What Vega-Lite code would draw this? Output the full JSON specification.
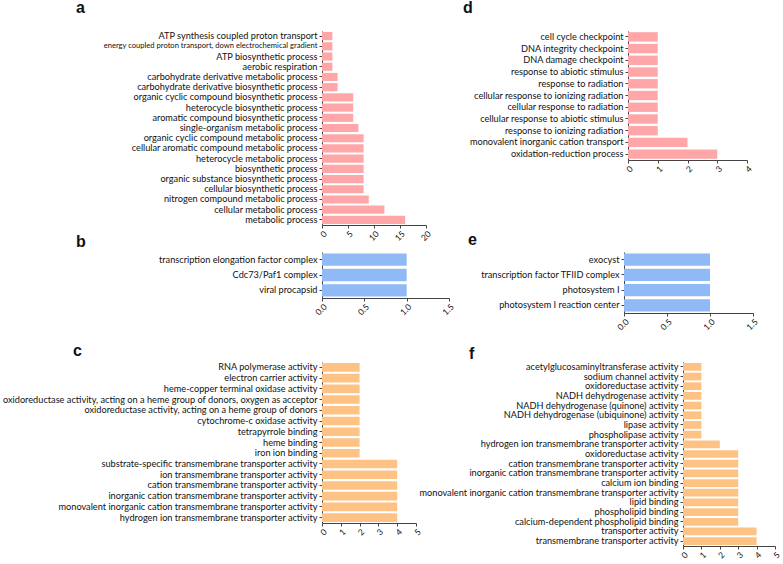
{
  "$schema": "https://vega.github.io/schema/vega-lite/v6.json",
  "padding": {"left": 2, "top": 0, "right": 0, "bottom": 0},
  "background": "white",
  "config": {
    "view": {"stroke": null},
    "axis": {
      "labelFont": "Lato",
      "labelFontSize": 9.2,
      "labelColor": "#111111",
      "labelLimit": 400,
      "labelPadding": 2,
      "domainColor": "#444444",
      "tickColor": "#444444",
      "tickSize": 3,
      "grid": false
    },
    "axisX": {"labelAngle": -45, "labelFontSize": 8.5, "labelPadding": 1},
    "title": {
      "font": "Liberation Sans",
      "fontWeight": "bold",
      "fontSize": 16,
      "anchor": "start",
      "frame": "group",
      "baseline": "alphabetic",
      "color": "#111111"
    }
  },
  "spacing": -10,
  "vconcat": [
    {
      "spacing": 30,
      "hconcat": [
        {
          "title": {"text": "a", "dx": -246, "offset": 15},
          "width": 104,
          "height": 194,
          "data": {"values": [
            {"term": "ATP synthesis coupled proton transport", "count": 2},
            {"term": "energy coupled proton transport, down electrochemical gradient", "count": 2},
            {"term": "ATP biosynthetic process", "count": 2},
            {"term": "aerobic respiration", "count": 2},
            {"term": "carbohydrate derivative metabolic process", "count": 3},
            {"term": "carbohydrate derivative biosynthetic process", "count": 3},
            {"term": "organic cyclic compound biosynthetic process", "count": 6},
            {"term": "heterocycle biosynthetic process", "count": 6},
            {"term": "aromatic compound biosynthetic process", "count": 6},
            {"term": "single-organism metabolic process", "count": 7},
            {"term": "organic cyclic compound metabolic process", "count": 8},
            {"term": "cellular aromatic compound metabolic process", "count": 8},
            {"term": "heterocycle metabolic process", "count": 8},
            {"term": "biosynthetic process", "count": 8},
            {"term": "organic substance biosynthetic process", "count": 8},
            {"term": "cellular biosynthetic process", "count": 8},
            {"term": "nitrogen compound metabolic process", "count": 9},
            {"term": "cellular metabolic process", "count": 12},
            {"term": "metabolic process", "count": 16}
          ]},
          "mark": {"type": "bar", "color": "#ffa7a8"},
          "encoding": {
            "y": {
              "field": "term", "type": "nominal", "sort": null, "title": null,
              "scale": {"paddingInner": 0.2, "paddingOuter": 0.1},
              "axis": {"labelFontSize": {"condition": {"test": "datum.value == 'energy coupled proton transport, down electrochemical gradient'", "value": 7.6}, "value": 9.2}}
            },
            "x": {
              "field": "count", "type": "quantitative", "title": null,
              "scale": {"domain": [0, 20]},
              "axis": {"values": [0, 5, 10, 15, 20]}
            }
          }
        },
        {
          "title": {"text": "d", "dx": -165, "offset": 15},
          "width": 119,
          "height": 129,
          "data": {"values": [
            {"term": "cell cycle checkpoint", "count": 1},
            {"term": "DNA integrity checkpoint", "count": 1},
            {"term": "DNA damage checkpoint", "count": 1},
            {"term": "response to abiotic stimulus", "count": 1},
            {"term": "response to radiation", "count": 1},
            {"term": "cellular response to ionizing radiation", "count": 1},
            {"term": "cellular response to radiation", "count": 1},
            {"term": "cellular response to abiotic stimulus", "count": 1},
            {"term": "response to ionizing radiation", "count": 1},
            {"term": "monovalent inorganic cation transport", "count": 2},
            {"term": "oxidation-reduction process", "count": 3}
          ]},
          "mark": {"type": "bar", "color": "#ffa7a8"},
          "encoding": {
            "y": {
              "field": "term", "type": "nominal", "sort": null, "title": null,
              "scale": {"paddingInner": 0.2, "paddingOuter": 0.1}
            },
            "x": {
              "field": "count", "type": "quantitative", "title": null,
              "scale": {"domain": [0, 4]},
              "axis": {"values": [0, 1, 2, 3, 4]}
            }
          }
        }
      ]
    },
    {
      "spacing": 11,
      "vconcat": [
        {
          "spacing": 12,
          "hconcat": [
            {
              "title": {"text": "b", "dx": -246, "offset": 2},
              "width": 127,
              "height": 46,
              "data": {"values": [
                {"term": "transcription elongation factor complex", "count": 1},
                {"term": "Cdc73/Paf1 complex", "count": 1},
                {"term": "viral procapsid", "count": 1}
              ]},
              "mark": {"type": "bar", "color": "#8fbaf5"},
              "encoding": {
                "y": {
                  "field": "term", "type": "nominal", "sort": null, "title": null,
                  "scale": {"paddingInner": 0.2, "paddingOuter": 0.1}
                },
                "x": {
                  "field": "count", "type": "quantitative", "title": null,
                  "scale": {"domain": [0, 1.5]},
                  "axis": {"values": [0, 0.5, 1, 1.5], "format": ".1f"}
                }
              }
            },
            {
              "title": {"text": "e", "dx": -156, "offset": 4},
              "width": 129,
              "height": 61,
              "data": {"values": [
                {"term": "exocyst", "count": 1},
                {"term": "transcription factor TFIID complex", "count": 1},
                {"term": "photosystem I", "count": 1},
                {"term": "photosystem I reaction center", "count": 1}
              ]},
              "mark": {"type": "bar", "color": "#8fbaf5"},
              "encoding": {
                "y": {
                  "field": "term", "type": "nominal", "sort": null, "title": null,
                  "scale": {"paddingInner": 0.2, "paddingOuter": 0.1}
                },
                "x": {
                  "field": "count", "type": "quantitative", "title": null,
                  "scale": {"domain": [0, 1.5]},
                  "axis": {"values": [0, 0.5, 1, 1.5], "format": ".1f"}
                }
              }
            }
          ]
        },
        {
          "spacing": -5,
          "hconcat": [
            {
              "title": {"text": "c", "dx": -249, "offset": 3},
              "width": 94,
              "height": 161,
              "data": {"values": [
                {"term": "RNA polymerase activity", "count": 2},
                {"term": "electron carrier activity", "count": 2},
                {"term": "heme-copper terminal oxidase activity", "count": 2},
                {"term": "oxidoreductase activity, acting on a heme group of donors, oxygen as acceptor", "count": 2},
                {"term": "oxidoreductase activity, acting on a heme group of donors", "count": 2},
                {"term": "cytochrome-c oxidase activity", "count": 2},
                {"term": "tetrapyrrole binding", "count": 2},
                {"term": "heme binding", "count": 2},
                {"term": "iron ion binding", "count": 2},
                {"term": "substrate-specific transmembrane transporter activity", "count": 4},
                {"term": "ion transmembrane transporter activity", "count": 4},
                {"term": "cation transmembrane transporter activity", "count": 4},
                {"term": "inorganic cation transmembrane transporter activity", "count": 4},
                {"term": "monovalent inorganic cation transmembrane transporter activity", "count": 4},
                {"term": "hydrogen ion transmembrane transporter activity", "count": 4}
              ]},
              "mark": {"type": "bar", "color": "#ffc285"},
              "encoding": {
                "y": {
                  "field": "term", "type": "nominal", "sort": null, "title": null,
                  "scale": {"paddingInner": 0.2, "paddingOuter": 0.1}
                },
                "x": {
                  "field": "count", "type": "quantitative", "title": null,
                  "scale": {"domain": [0, 5]},
                  "axis": {"values": [0, 1, 2, 3, 4, 5]}
                }
              }
            },
            {
              "title": {"text": "f", "dx": -214, "offset": 0},
              "width": 92,
              "height": 184,
              "data": {"values": [
                {"term": "acetylglucosaminyltransferase activity", "count": 1},
                {"term": "sodium channel activity", "count": 1},
                {"term": "oxidoreductase activity", "count": 1},
                {"term": "NADH dehydrogenase activity", "count": 1},
                {"term": "NADH dehydrogenase (quinone) activity", "count": 1},
                {"term": "NADH dehydrogenase (ubiquinone) activity", "count": 1},
                {"term": "lipase activity", "count": 1},
                {"term": "phospholipase activity", "count": 1},
                {"term": "hydrogen ion transmembrane transporter activity", "count": 2},
                {"term": "oxidoreductase activity ", "count": 3},
                {"term": "cation transmembrane transporter activity", "count": 3},
                {"term": "inorganic cation transmembrane transporter activity", "count": 3},
                {"term": "calcium ion binding", "count": 3},
                {"term": "monovalent inorganic cation transmembrane transporter activity", "count": 3},
                {"term": "lipid binding", "count": 3},
                {"term": "phospholipid binding", "count": 3},
                {"term": "calcium-dependent phospholipid binding", "count": 3},
                {"term": "transporter activity", "count": 4},
                {"term": "transmembrane transporter activity", "count": 4}
              ]},
              "mark": {"type": "bar", "color": "#ffc285"},
              "encoding": {
                "y": {
                  "field": "term", "type": "nominal", "sort": null, "title": null,
                  "scale": {"paddingInner": 0.2, "paddingOuter": 0.1}
                },
                "x": {
                  "field": "count", "type": "quantitative", "title": null,
                  "scale": {"domain": [0, 5]},
                  "axis": {"values": [0, 1, 2, 3, 4, 5]}
                }
              }
            }
          ]
        }
      ]
    }
  ]
}
